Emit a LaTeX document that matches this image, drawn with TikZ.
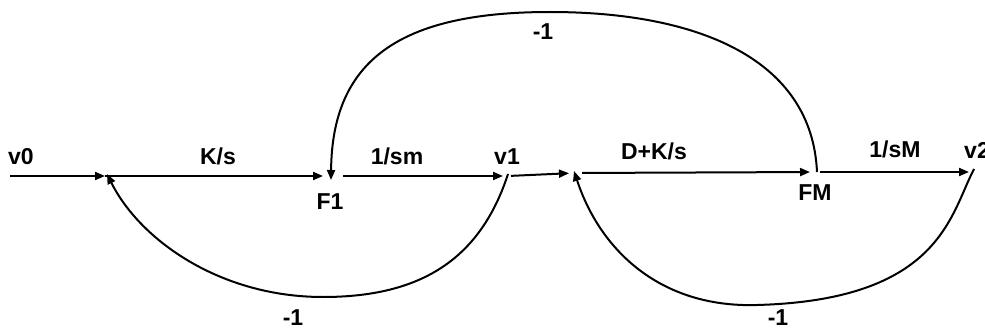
\documentclass[tikz,border=0pt]{standalone}
\usepackage{fontspec}
\setmainfont{Liberation Sans}
\usetikzlibrary{arrows.meta}
\begin{document}
\begin{tikzpicture}[x=1pt,y=-1pt,line width=2pt,
  arr/.style={-{Triangle[length=10pt,width=8pt]}},
  lbl/.style={font=\fontsize{23}{27}\selectfont\bfseries,inner sep=0pt}]
\useasboundingbox (0,0) rectangle (985,329);
% signal points
\coordinate (v0) at (10,176);
\coordinate (A) at (105,176);
\coordinate (F1) at (331,176);
\coordinate (v1) at (508,176);
\coordinate (B) at (574,173);
\coordinate (FM) at (817,172);
\coordinate (v2) at (972,172);
\coordinate (topmid) at (550,12);
\coordinate (bot1) at (323,297);
\coordinate (bot2) at (757,305);
% forward branches
\draw[arr] (v0) -- (A);
\draw[arr,shorten >=8pt] (A) -- (F1);
\draw[arr,shorten <=12pt,shorten >=5pt] (F1) -- (v1);
\draw[arr,shorten <=3pt,shorten >=5pt] (v1) -- (B);
\draw[arr,shorten <=8pt,shorten >=7pt] (B) -- (FM);
\draw[arr,shorten <=3pt,shorten >=3pt] (FM) -- (v2);
% feedback branches
\draw[arr] (FM) .. controls (812,60) and (700,12) .. (topmid)
  .. controls (400,12) and (332,60) .. ([yshift=-4pt]F1);
\draw[arr] ([yshift=2pt]v1) .. controls (480,260) and (420,297) .. (bot1)
  .. controls (220,297) and (140,240) .. ([shift={(2pt,2pt)}]A);
\draw[arr] ([shift={(2pt,3pt)}]v2) .. controls (950,215) and (940,300) .. (bot2)
  .. controls (660,308) and (600,250) .. ([yshift=2pt]B);
% labels
\node[lbl] (lv0) at (21,157) {v0};
\node[lbl] (lKs) at (218,156) {K/s};
\node[lbl] (lF1) at (330,202) {F1};
\node[lbl] (lsm) at (397,156) {1/sm};
\node[lbl] (lv1) at (507,157) {v1};
\node[lbl] (lDK) at (654,151) {D+K/s};
\node[lbl] (lFM) at (815,193) {FM};
\node[lbl] (lsM) at (895,149) {1/sM};
\node[lbl] (lv2) at (977,150) {v2};
\node[lbl] (ltop) at (543,32) {-1};
\node[lbl] (lb1) at (293,318) {-1};
\node[lbl] (lb2) at (778,318) {-1};
\end{tikzpicture}
\end{document}
